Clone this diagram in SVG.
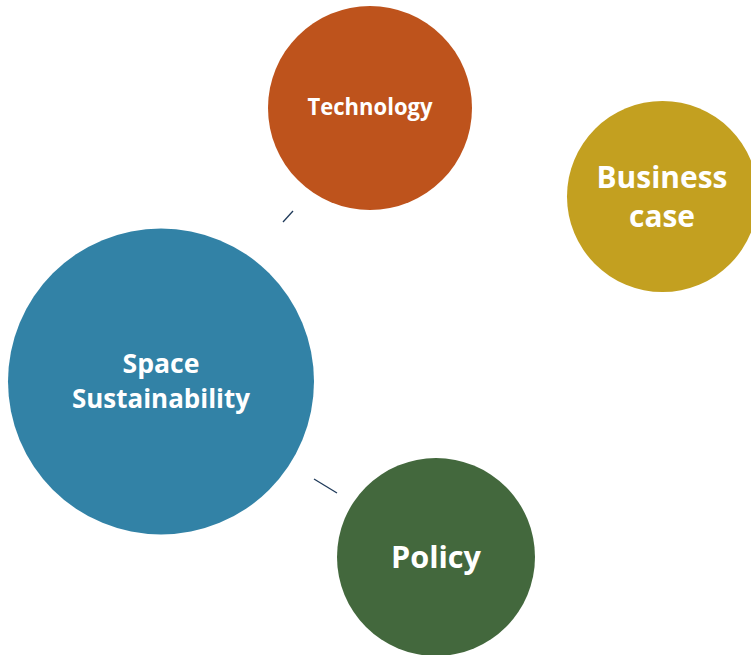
<svg xmlns="http://www.w3.org/2000/svg" width="751" height="655" viewBox="0 0 751 655">
<style>
.lbl{font-family:"Open Sans","Noto Sans","Liberation Sans",sans-serif;font-weight:bold;fill:#fff;text-anchor:middle}
.conn{stroke:#1F3A5A;stroke-width:1.3;fill:none}
</style>
<rect width="751" height="655" fill="#fff"/>
<g id="connectors">
<line class="conn" x1="283" y1="222" x2="293" y2="211"/>
<line class="conn" x1="314" y1="479" x2="337" y2="493"/>
</g>
<g id="technology">
<circle cx="370" cy="108" r="102" fill="#BE531C"/>
<text class="lbl" x="370" y="115" font-size="23" textLength="125" lengthAdjust="spacingAndGlyphs">Technology</text>
</g>
<g id="business-case">
<circle cx="662.5" cy="196.5" r="95.5" fill="#C3A020"/>
<text class="lbl" x="662" y="188" font-size="31" textLength="131" lengthAdjust="spacingAndGlyphs">Business</text>
<text class="lbl" x="662" y="227" font-size="31" textLength="66" lengthAdjust="spacingAndGlyphs">case</text>
</g>
<g id="space-sustainability">
<circle cx="161" cy="381.5" r="153" fill="#3282A6"/>
<text class="lbl" x="161" y="373" font-size="27" textLength="77" lengthAdjust="spacingAndGlyphs">Space</text>
<text class="lbl" x="161" y="408" font-size="27" textLength="178" lengthAdjust="spacingAndGlyphs">Sustainability</text>
</g>
<g id="policy">
<circle cx="436" cy="557" r="99" fill="#43683D"/>
<text class="lbl" x="436" y="568" font-size="31" textLength="90" lengthAdjust="spacingAndGlyphs">Policy</text>
</g>
</svg>
